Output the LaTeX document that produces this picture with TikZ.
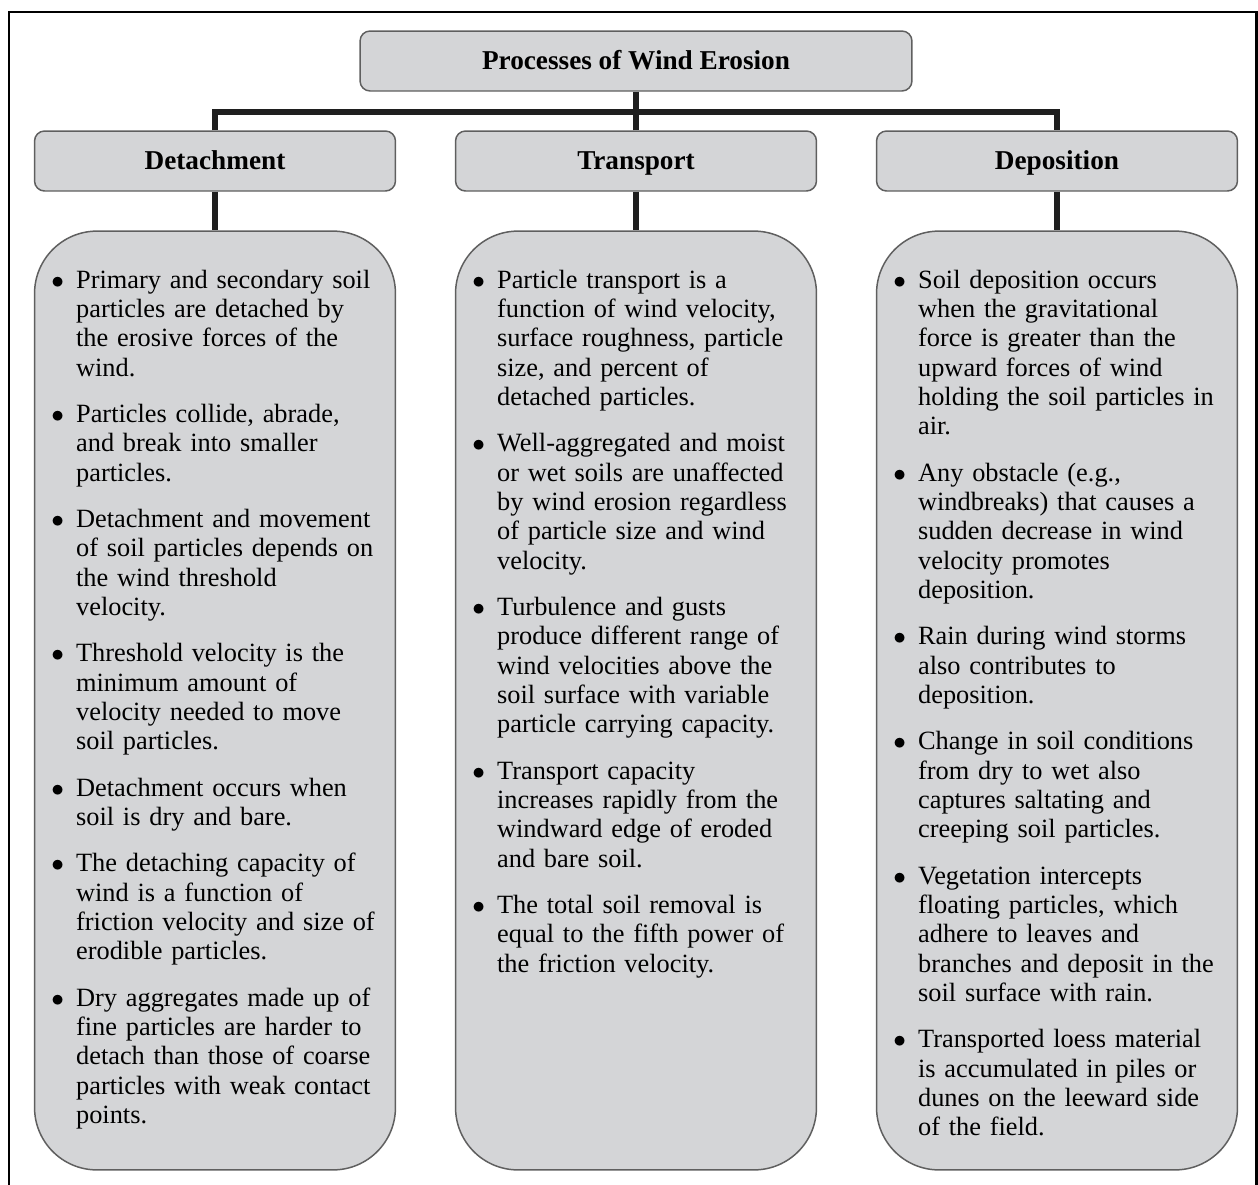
\documentclass[tikz,border=0pt]{standalone}
\usepackage{fontspec}
\setmainfont{Liberation Serif}
\usepackage{enumitem}
\usetikzlibrary{calc}
\definecolor{boxgray}{RGB}{212,213,215}
\definecolor{edgegray}{RGB}{95,95,95}
\newcommand{\pointlist}[1]{\begin{itemize}[leftmargin=0.54cm,labelsep=0.24cm,topsep=0pt,partopsep=0pt,parsep=0pt,itemsep=0.34cm,label=$\bullet$]#1\end{itemize}}

\begin{document}
\begin{tikzpicture}[
  x=0.02cm,y=-0.02cm,
  every node/.style={font=\fontsize{15}{16.7}\selectfont},
  head/.style={draw=edgegray,line width=0.85pt,fill=boxgray,rounded corners=0.2cm,
    minimum width=7.22cm,minimum height=1.2cm,text height=2.4ex,text depth=0.3ex,
    font=\fontsize{15.5}{16.7}\selectfont\bfseries},
  panel/.style={draw=edgegray,line width=0.85pt,fill=boxgray,rounded corners=1.25cm,
    minimum width=7.22cm,minimum height=18.78cm},
  points/.style={anchor=north west,text width=6.7cm,align=left,inner sep=0pt},
  link/.style={line width=3pt,black!88,line join=miter}
]
\useasboundingbox (0,0) rectangle (1258,1184);
\draw[line width=1.7pt] (9,1190) -- (9,12) -- (1256,12) -- (1256,1190);

\node[head,minimum width=11.04cm] (title) at (636,61) {Processes of Wind Erosion};
\foreach \n/\x/\lab in {det/215/Detachment,tra/636/Transport,dep/1057/Deposition} {
  \node[head] (\n) at (\x,161) {\lab};
  \node[panel] (\n-box) at (\x,700.5) {};
  \draw[link] (\n.south) -- (\n-box.north);
}
\coordinate (bus) at (636,112);
\draw[link] (title.south) -- (bus);
\draw[link] (det.north) |- (bus) -| (dep.north);
\draw[link] (tra.north) -- (bus);

\node[points] (det-text) at ($(det-box.north west)+(15,28)$) {\pointlist{
  \item Primary and secondary soil\\ particles are detached by\\ the erosive forces of the\\ wind.
  \item Particles collide, abrade,\\ and break into smaller\\ particles.
  \item Detachment and movement\\ of soil particles depends on\\ the wind threshold\\ velocity.
  \item Threshold velocity is the\\ minimum amount of\\ velocity needed to move\\ soil particles.
  \item Detachment occurs when\\ soil is dry and bare.
  \item The detaching capacity of\\ wind is a function of\\ friction velocity and size of\\ erodible particles.
  \item Dry aggregates made up of\\ fine particles are harder to\\ detach than those of coarse\\ particles with weak contact\\ points.}};
\node[points] (tra-text) at ($(tra-box.north west)+(15,28)$) {\pointlist{
  \item Particle transport is a\\ function of wind velocity,\\ surface roughness, particle\\ size, and percent of\\ detached particles.
  \item Well-aggregated and moist\\ or wet soils are unaffected\\ by wind erosion regardless\\ of particle size and wind\\ velocity.
  \item Turbulence and gusts\\ produce different range of\\ wind velocities above the\\ soil surface with variable\\ particle carrying capacity.
  \item Transport capacity\\ increases rapidly from the\\ windward edge of eroded\\ and bare soil.
  \item The total soil removal is\\ equal to the fifth power of\\ the friction velocity.}};
\node[points] (dep-text) at ($(dep-box.north west)+(15,28)$) {\pointlist{
  \item Soil deposition occurs\\ when the gravitational\\ force is greater than the\\ upward forces of wind\\ holding the soil particles in\\ air.
  \item Any obstacle (e.g.,\\ windbreaks) that causes a\\ sudden decrease in wind\\ velocity promotes\\ deposition.
  \item Rain during wind storms\\ also contributes to\\ deposition.
  \item Change in soil conditions\\ from dry to wet also\\ captures saltating and\\ creeping soil particles.
  \item Vegetation intercepts\\ floating particles, which\\ adhere to leaves and\\ branches and deposit in the\\ soil surface with rain.
  \item Transported loess material\\ is accumulated in piles or\\ dunes on the leeward side\\ of the field.}};
\end{tikzpicture}
\end{document}
